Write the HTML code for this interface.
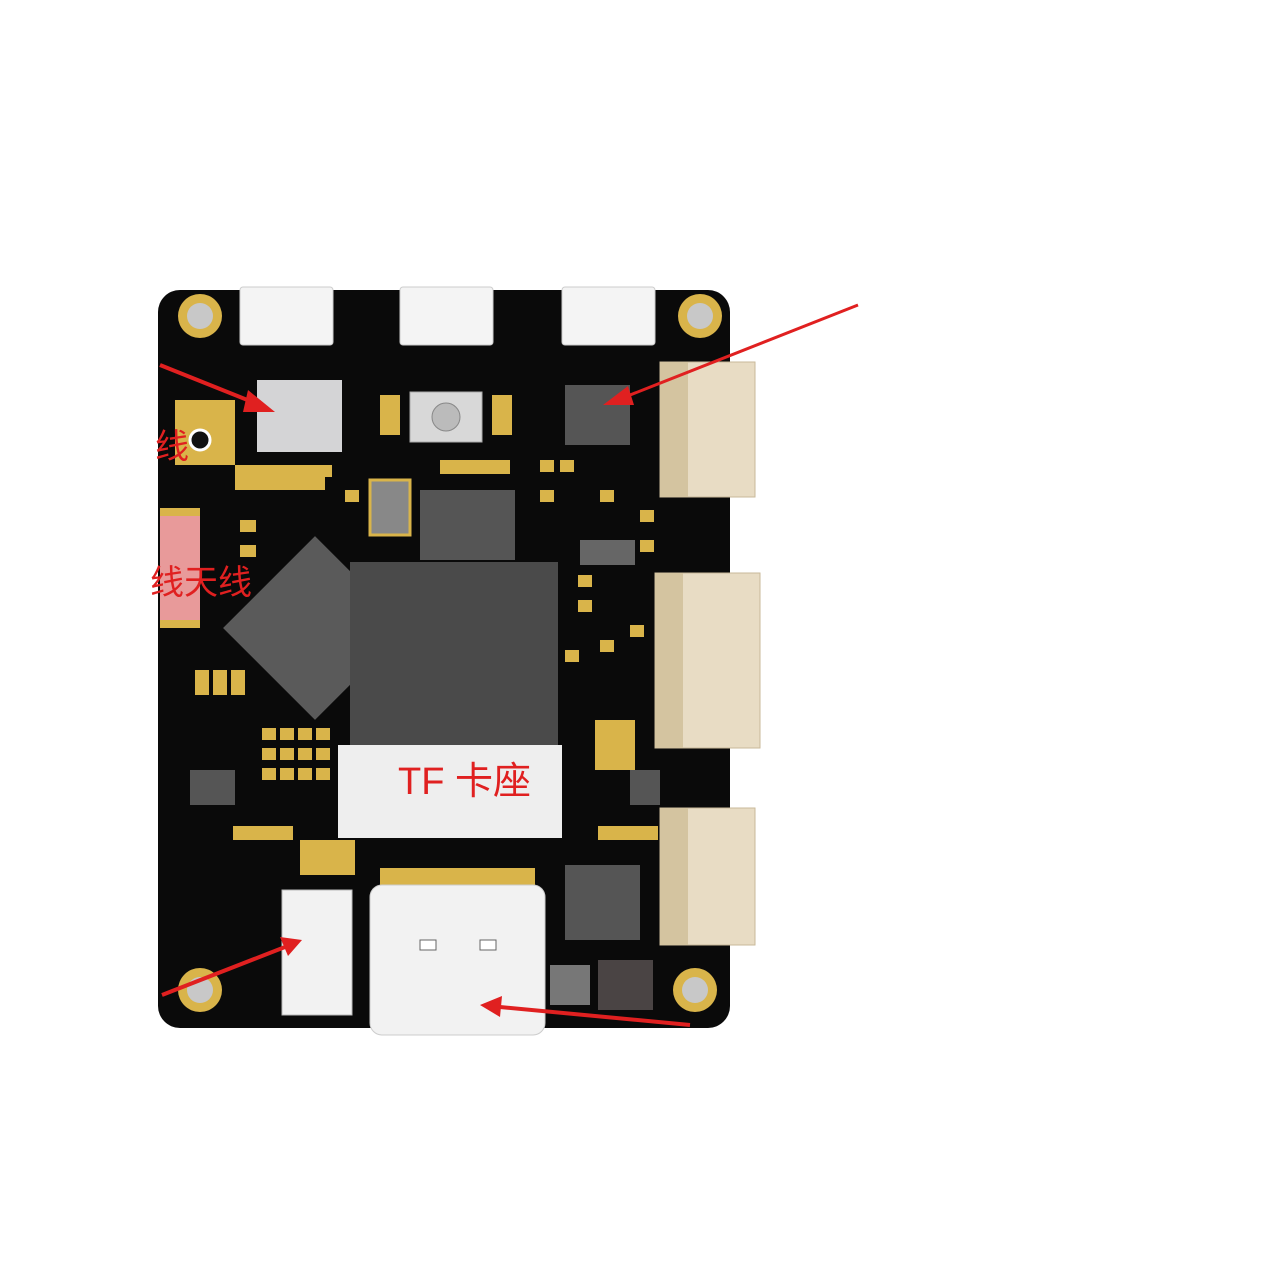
<!DOCTYPE html>
<html><head><meta charset="utf-8"><style>
html,body{margin:0;padding:0;background:#fff;width:1280px;height:1280px;overflow:hidden}
</style></head><body>
<svg width="1280" height="1280" viewBox="0 0 1280 1280" xmlns="http://www.w3.org/2000/svg">
<rect x="0" y="0" width="1280" height="1280" fill="#fff"/>
<rect x="158" y="290" width="572" height="738" rx="22" fill="#0a0a0a"/>
<g fill="#d9b44a"><circle cx="200" cy="316" r="22"/><circle cx="700" cy="316" r="22"/><circle cx="200" cy="990" r="22"/><circle cx="695" cy="990" r="22"/></g>
<g fill="#c8c8c8"><circle cx="200" cy="316" r="13"/><circle cx="700" cy="316" r="13"/><circle cx="200" cy="990" r="13"/><circle cx="695" cy="990" r="13"/></g>
<g fill="#f4f4f4" stroke="#ccc"><rect x="240" y="287" width="93" height="58" rx="3"/><rect x="400" y="287" width="93" height="58" rx="3"/><rect x="562" y="287" width="93" height="58" rx="3"/></g>
<g fill="#e8dcc4" stroke="#c9b99a"><rect x="660" y="362" width="95" height="135"/><rect x="655" y="573" width="105" height="175"/><rect x="660" y="808" width="95" height="137"/></g>
<g fill="#d4c4a0"><rect x="660" y="362" width="28" height="135"/><rect x="655" y="573" width="28" height="175"/><rect x="660" y="808" width="28" height="137"/></g>
<rect x="257" y="380" width="85" height="72" fill="#d4d4d6"/>
<rect x="410" y="392" width="72" height="50" fill="#d8d8d8" stroke="#aaa"/>
<circle cx="446" cy="417" r="14" fill="#bbb" stroke="#888"/>
<rect x="565" y="385" width="65" height="60" fill="#555"/>
<rect x="420" y="490" width="95" height="70" fill="#555"/>
<rect x="370" y="480" width="40" height="55" fill="#888" stroke="#d9b44a" stroke-width="3"/>
<rect x="580" y="540" width="55" height="25" fill="#666"/>
<rect x="235" y="465" width="90" height="25" fill="#d9b44a"/>
<rect x="233" y="826" width="60" height="14" fill="#d9b44a"/>
<rect x="598" y="826" width="60" height="14" fill="#d9b44a"/>
<rect x="565" y="865" width="75" height="75" fill="#555"/>
<rect x="550" y="965" width="40" height="40" fill="#777"/>
<rect x="598" y="960" width="55" height="50" fill="#4a4444"/>
<rect x="190" y="770" width="45" height="35" fill="#555"/>
<rect x="630" y="770" width="30" height="35" fill="#555"/>
<g fill="#d9b44a">
<rect x="240" y="520" width="16" height="12"/><rect x="240" y="545" width="16" height="12"/><rect x="318" y="465" width="14" height="12"/><rect x="345" y="490" width="14" height="12"/>
<rect x="540" y="460" width="14" height="12"/><rect x="560" y="460" width="14" height="12"/><rect x="540" y="490" width="14" height="12"/><rect x="600" y="490" width="14" height="12"/>
<rect x="640" y="510" width="14" height="12"/><rect x="640" y="540" width="14" height="12"/><rect x="578" y="575" width="14" height="12"/><rect x="578" y="600" width="14" height="12"/>
<rect x="630" y="625" width="14" height="12"/><rect x="600" y="640" width="14" height="12"/><rect x="565" y="650" width="14" height="12"/>
<rect x="195" y="670" width="14" height="25"/><rect x="213" y="670" width="14" height="25"/><rect x="231" y="670" width="14" height="25"/>
<rect x="595" y="720" width="40" height="50"/><rect x="300" y="840" width="55" height="35"/>
<rect x="380" y="395" width="20" height="40"/><rect x="492" y="395" width="20" height="40"/><rect x="175" y="400" width="60" height="65"/>
<rect x="440" y="460" width="70" height="14"/>
</g>
<g fill="#d9b44a">
<rect x="262" y="728" width="14" height="12"/><rect x="280" y="728" width="14" height="12"/><rect x="298" y="728" width="14" height="12"/><rect x="316" y="728" width="14" height="12"/>
<rect x="262" y="748" width="14" height="12"/><rect x="280" y="748" width="14" height="12"/><rect x="298" y="748" width="14" height="12"/><rect x="316" y="748" width="14" height="12"/>
<rect x="262" y="768" width="14" height="12"/><rect x="280" y="768" width="14" height="12"/><rect x="298" y="768" width="14" height="12"/><rect x="316" y="768" width="14" height="12"/>
</g>
<circle cx="200" cy="440" r="10" fill="#111" stroke="#fff" stroke-width="3"/>
<rect x="160" y="508" width="40" height="120" fill="#e89a9a"/>
<rect x="160" y="508" width="40" height="8" fill="#d9b44a"/><rect x="160" y="620" width="40" height="8" fill="#d9b44a"/>
<rect x="250" y="563" width="130" height="130" fill="#5a5a5a" transform="rotate(45 315 628)"/>
<rect x="350" y="562" width="208" height="183" fill="#4a4a4a"/>
<rect x="338" y="745" width="224" height="93" fill="#eeeeee"/>
<text x="398" y="794" font-family="Liberation Sans,'Noto Sans CJK SC',sans-serif" font-size="38" fill="#e02020">TF 卡座</text>
<rect x="380" y="868" width="155" height="20" fill="#d9b44a"/>
<rect x="370" y="885" width="175" height="150" rx="12" fill="#f2f2f2" stroke="#ccc"/>
<rect x="420" y="940" width="16" height="10" fill="#fff" stroke="#666"/><rect x="480" y="940" width="16" height="10" fill="#fff" stroke="#666"/>
<rect x="282" y="890" width="70" height="125" fill="#f2f2f2" stroke="#bbb"/>
<text x="155" y="458" font-family="Liberation Sans,'Noto Sans CJK SC',sans-serif" font-size="34" fill="#e02020">线</text>
<text x="150" y="594" font-family="Liberation Sans,'Noto Sans CJK SC',sans-serif" font-size="34" fill="#e02020">线天线</text>
<g stroke="#e02020" stroke-width="4" fill="#e02020">
<line x1="160" y1="365" x2="255" y2="403"/><polygon points="275,412 248,390 243,412" stroke="none"/>
<line x1="858" y1="305" x2="625" y2="397" stroke-width="3"/><polygon points="603,405 628,386 634,405" stroke="none"/>
<line x1="162" y1="995" x2="285" y2="947"/><polygon points="302,940 280,937 288,956" stroke="none"/>
<line x1="690" y1="1025" x2="500" y2="1007"/><polygon points="480,1005 502,996 500,1017" stroke="none"/>
</g>
</svg>
</body></html>
